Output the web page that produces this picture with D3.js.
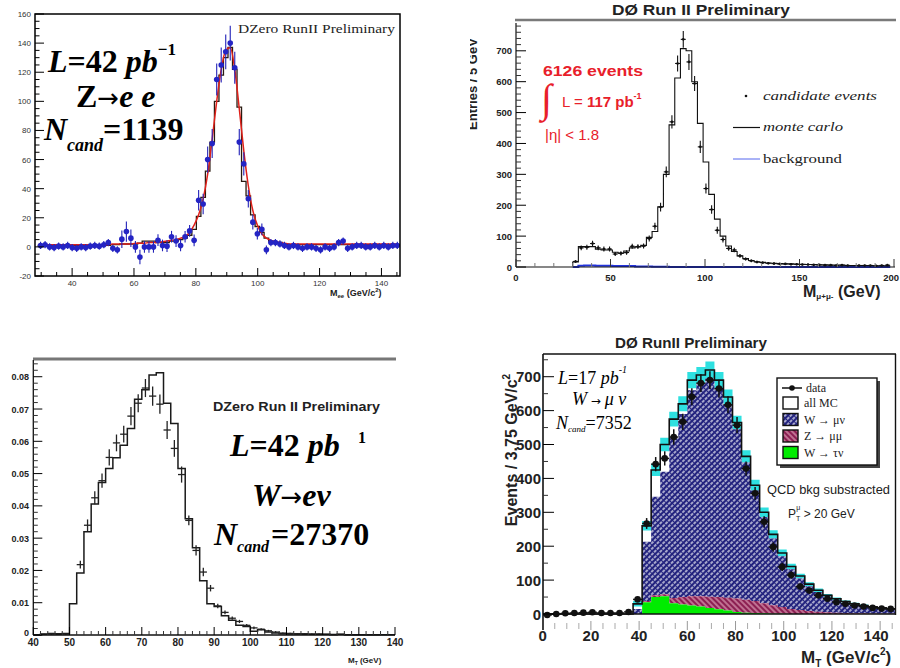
<!DOCTYPE html>
<html>
<head>
<meta charset="utf-8">
<script src="https://cdn.jsdelivr.net/npm/d3@7"></script>
<style>
  body { margin: 0; background: #fff; }
  svg { display: block; }
</style>
</head>
<body>
<svg id="chart" width="900" height="668"></svg>
<script>
// ---- panel A: Z -> ee (DZero RunII), bins of 1.46 GeV ----
const zeeEdge0 = 29.07, zeeWidth = 1.46;
const zeeData = [1,1.5,0,-0.5,0.5,0,1,-0.5,-1,0, -0.5,0.5,1,0.5,1.5,3,-1,-2,5.3,10.5,
  6,0,-7,0,0,0,4.6,1,0.5,7, 4,1,7,11,4.5,32,29.5,60,71,115,
  125,134,140,123,72,57,33,17,9,12, -2,3,3,2,1,0,1,0,-1,0,
  0,-1,-2,0,-1,0,3,4,-1,0, 1,1,0,0,1,0,1,0,1,1];
const zeeErr = [2.5,2.5,2.5,2.5,2.5,2.5,2.5,2.5,2.5,2.5, 2.5,2.5,2.5,2.5,2.5,2.5,2.5,2.5,6,7,
  6,4,5,4,4,4,4,4,4,4, 4,4,4,4,4,7,7,9,10,11,
  12,12,12,11,9,8,6,5,4,4, 3,2.5,2.5,2.5,2.5,2.5,2.5,2.5,2.5,2.5,
  2.5,2.5,2.5,2.5,2.5,2.5,2.5,2.5,2.5,2.5, 2.5,2.5,2.5,2.5,2.5,2.5,2.5,2.5,2.5,2.5];
const zeeMC = [1,1,1,1,1,1,1,1,1,1, 1,1,1,1,1,1,1.5,1.5,2,2,
  2,2,2.5,4,4,4,3,3,3,4, 4,5,6,8,12,21,34,52,72,100,
  118,130,137,122,96,45,35,22,14,10, 6,4,3,3,2,1.5,1.5,1.5,1.5,1.5,
  1.5,1.5,1.5,1.5,1.5,1.5,1.5,1.5,1.5,1.5, 1.5,1.5,1.5,1.5,1.5,1.5,1.5,1.5,1.5,1.5];
const zeeFit = [1.5,1.5,1.5,1.5,1.5,1.5,1.5,1.5,1.5,1.5, 1.5,1.5,1.5,1.5,1.5,1.5,2,2,2,2,
  2,2.5,2.5,2.5,3,3,3,3.5,4,4.5, 5,6,7,10,15,22,33,50,74,100,
  122,135,137,122,95,66,42,25,15,9, 6,4.5,3.5,3,2.5,2,2,2,2,2,
  2,2,2,2,2,2,2,2,2,2, 2,2,2,2,2,2,2,2,2,2];
const zeeYTicks = [-20, 0, 20, 40, 60, 80, 100, 120, 140, 160];
const zeeXTicks = [40, 60, 80, 100, 120, 140];

// ---- panel B: Z -> mu mu (D0 Run II), bins of 3 GeV ----
const zmmEdge0 = 30, zmmWidth = 3;
const zmmData = [18,62,64,76,62,58,58,42,44,47, 67,66,68,92,132,194,308,470,659,737,
  664,594,389,254,186,119,89,60,55,36, 26,20,16,14,12,11,10,10,9,9,
  8,8,7,7,6,6,5,6,5,null, 5,5,5,4,5,6];
const zmmErr = [4,8,8,9,8,8,8,6.5,6.6,7, 8,8,8,9.6,11.5,14,17.5,21.7,25.7,27,
  25.8,24.4,19.7,16,13.6,11,9.4,7.7,7.4,6, 5,4.5,4,3.7,3.5,3.3,3.2,3.2,3,3,
  2.8,2.8,2.6,2.6,2.4,2.4,2.2,2.4,2.2,null, 2.2,2.2,2.2,2,2.2,2.4];
const zmmMC = [16,66,66,66,58,55,55,48,45,52, 62,65,70,96,115,195,300,460,612,707,
  700,600,465,340,235,155,100,68,50,36, 27,21,17,15,13,12,11,10,10,9,
  9,8,8,7,7,6,6,6,5,5, 5,5,5,4,4,4];
const zmmBkg = [0,4,5,5,4,4,4,3,3,3, 3,2,2,2,1,1,1,0,0,0,
  0,0,0,0,0,0,0,0,0,0, 0,0,0,0,0,0,0,0,0,0,
  0,0,0,0,0,0,0,0,0,0, 0,0,0,0,0,0];
const zmmYTicks = [0, 100, 200, 300, 400, 500, 600, 700];
const zmmXTicks = [0, 50, 100, 150, 200];

// ---- panel C: W -> e nu (DZero Run II), bins of 2 GeV ----
const wenEdge0 = 40, wenWidth = 2;
const wenMC = [0,0.0003,0.0005,0.0004,0.0005,0.0097,0.0192,0.032,0.0406,0.0472,
  0.0516,0.0549,0.0588,0.064,0.073,0.076,0.0805,0.0812,0.0718,0.0655,
  0.0516,0.036,0.027,0.0168,0.0097,0.0088,0.006,0.0046,0.003,0.0026,
  0.0012,0.0016,0.0009,0.0006,0.0004,0.0003,0.0003,0.0002,0.0002,0.0002,
  0.0002,0.0001,0.0002,0.0001,0.0001,0.0001,0.0001,0.0001,0.0001,0.0001];
const wenData = [null,0.0002,0.0003,0.0002,0.0003,null,0.0218,0.034,0.0425,0.0478,
  0.055,0.0595,0.0622,0.0678,0.0718,0.0765,0.074,0.0715,0.0635,0.0578,
  0.0497,0.0355,0.0262,0.0195,0.0145,0.009,0.007,0.0052,0.0042,0.003,
  0.0022,0.0018,0.0013,0.0009,0.0006,0.0005,0.0004,0.0004,0.0003,0.0003,
  0.0002,0.0002,0.0002,0.0001,0.0001,0.0001,0.0001,0.0001,null,null];
const wenErr = [null,0.0002,0.0002,0.0002,0.0002,null,0.0012,0.0018,0.002,0.0022,
  0.0025,0.0026,0.0026,0.0028,0.0028,0.0028,0.003,0.003,0.0028,0.0026,
  0.0025,0.0015,0.0016,0.0013,0.001,0.0007,0.0006,0.0005,0.0005,0.0004,
  0.0004,0.0003,0.0003,0.0003,0.0002,0.0002,0.0002,0.0002,0.0002,0.0002,
  0.0001,0.0001,0.0001,0.0001,0.0001,0.0001,0.0001,0.0001,null,null];
const wenYTicks = [0, 0.01, 0.02, 0.03, 0.04, 0.05, 0.06, 0.07, 0.08];
const wenYLabels = ['0', '0.01', '0.02', '0.03', '0.04', '0.05', '0.06', '0.07', '0.08'];
const wenXTicks = [40, 50, 60, 70, 80, 90, 100, 110, 120, 130, 140];

// ---- panel D: W -> mu nu (D0 RunII), bins of 3.75 GeV ----
const wmnEdge0 = 0, wmnWidth = 3.75;
const wmnData = [-3,0,2,3,4,5,3,3,3,6, 43,267,442,459,522,567,641,681,690,665,
  617,557,429,356,272,198,139,115,81,69, 55,45,35,30,25,22,18,16,15];
const wmnErr = [3,3,3,3,3,3,3,3,3,4, 7,16,21,21,23,24,25,26,26,26,
  25,24,21,19,16.5,14,12,11,9,8.3, 7.4,6.7,6,5.5,5,4.7,4.2,4,3.9];
const wmnAllMC = [0,0,0,0,0,0,0,0,0,0, 30,260,425,500,575,620,690,705,720,690,
  640,565,465,380,300,235,180,140,112,88, 70,55,45,37,30,25,21,18,15];
const wmnBand = [0,0,0,0,0,0,0,0,0,0, 8,14,18,20,22,22,24,24,25,24,
  22,20,18,16,14,12,10,8,7,6, 5,4,4,3,3,3,2,2,2];
const wmnTau = [0,0,0,0,0,0,0,0,0,0, 0,35,50,52,32,28,25,22,18,14,
  10,6,4,3,2,1,1,0,0,0, 0,0,0,0,0,0,0,0,0];
const wmnZ = [0,0,0,0,0,0,0,0,0,0, 0,3,5,6,15,22,27,30,33,36,
  38,40,38,35,30,25,20,15,12,9, 7,5,4,3,2,2,1,1,1];
const wmnW = [0,0,0,0,0,0,0,0,0,0, 15,175,291,362,473,540,608,628,644,615,
  570,499,405,326,254,197,149,117,93,73, 58,46,37,31,25,20,18,15,12];
const wmnYTicks = [0, 100, 200, 300, 400, 500, 600, 700];
const wmnXTicks = [0, 20, 40, 60, 80, 100, 120, 140];

const SANS = '"Liberation Sans", Arial, sans-serif';
const SERIF = '"Liberation Serif", "Times New Roman", serif';
const ARROW = '"DejaVu Sans", sans-serif';

const svg = d3.select('#chart');
const defs = svg.append('defs');

function makeClip(id, x0, y0, x1, y1) {
  defs.append('clipPath').attr('id', id).append('rect')
    .attr('x', x0).attr('y', y0).attr('width', x1 - x0).attr('height', y1 - y0);
  return `url(#${id})`;
}

// text with tspans; parts: {t, size, style, weight, y, x, dx, dy}
function txt(g, x, y, parts, o = {}) {
  const t = g.append('text').attr('x', x).attr('y', y)
    .attr('font-family', o.family || SANS)
    .attr('font-size', o.size || 12)
    .attr('font-weight', o.weight || 'normal')
    .attr('fill', o.fill || '#000');
  if (o.anchor) t.attr('text-anchor', o.anchor);
  if (o.style) t.attr('font-style', o.style);
  if (o.len) t.attr('textLength', o.len).attr('lengthAdjust', 'spacingAndGlyphs');
  if (o.transform) t.attr('transform', o.transform);
  if (typeof parts === 'string') parts = [{ t: parts }];
  for (const p of parts) {
    const s = t.append('tspan').text(p.t);
    for (const k of ['x', 'y', 'dx', 'dy']) if (p[k] != null) s.attr(k, p[k]);
    if (p.size) s.attr('font-size', p.size);
    if (p.style) s.attr('font-style', p.style);
    if (p.weight) s.attr('font-weight', p.weight);
    if (p.family) s.attr('font-family', p.family);
  }
  return t;
}

function stepPoints(vals, e0, w) {
  const pts = [[e0, 0]];
  vals.forEach((v, i) => pts.push([e0 + i * w, v]));
  pts.push([e0 + vals.length * w, vals[vals.length - 1]]);
  return pts;
}
function stepPath(vals, e0, w, x, y) {
  return d3.line().x(d => x(d[0])).y(d => y(d[1])).curve(d3.curveStepAfter)(stepPoints(vals, e0, w));
}
function stepArea(lo, hi, e0, w, x, y) {
  const pts = lo.map((l, i) => [e0 + i * w, l, hi[i]]);
  pts.push([e0 + lo.length * w, lo[lo.length - 1], hi[hi.length - 1]]);
  return d3.area().x(d => x(d[0])).y0(d => y(d[1])).y1(d => y(d[2])).curve(d3.curveStepAfter)(pts);
}

// ticks on a y axis at x0 pointing right, and on an x axis at y0 pointing up
function yTicks(g, x0, y, vals, len, color = '#000') {
  g.selectAll(null).data(vals).enter().append('line')
    .attr('x1', x0).attr('x2', x0 + len).attr('y1', d => y(d)).attr('y2', d => y(d))
    .attr('stroke', color).attr('stroke-width', 1);
}
function xTicks(g, y0, x, vals, len, color = '#000') {
  g.selectAll(null).data(vals).enter().append('line')
    .attr('x1', d => x(d)).attr('x2', d => x(d)).attr('y1', y0).attr('y2', y0 - len)
    .attr('stroke', color).attr('stroke-width', 1);
}

function errorCrosses(g, vals, errs, e0, w, x, y, hw, color, sw) {
  const pts = vals.map((v, i) => ({ c: e0 + (i + 0.5) * w, v, e: errs[i] })).filter(d => d.v != null);
  const sel = g.append('g').attr('stroke', color).attr('stroke-width', sw);
  sel.selectAll(null).data(pts).enter().append('line')
    .attr('x1', d => x(d.c)).attr('x2', d => x(d.c))
    .attr('y1', d => y(d.v - d.e)).attr('y2', d => y(d.v + d.e));
  sel.selectAll(null).data(pts).enter().append('line')
    .attr('x1', d => (hw == null ? x(d.c - w / 2) : x(d.c) - hw))
    .attr('x2', d => (hw == null ? x(d.c + w / 2) : x(d.c) + hw))
    .attr('y1', d => y(d.v)).attr('y2', d => y(d.v));
  return pts;
}

// =================== panel A ===================
{
  const g = svg.append('g');
  const x = d3.scaleLinear([28, 146], [35, 400]);
  const y = d3.scaleLinear([-20, 160], [276, 14]);
  const clip = makeClip('clipA', 35, 14, 400, 276);

  const plot = g.append('g').attr('clip-path', clip);
  plot.append('path').attr('d', stepPath(zeeMC, zeeEdge0, zeeWidth, x, y))
    .attr('fill', 'none').attr('stroke', '#2a1a10').attr('stroke-width', 1.3);
  const centers = zeeFit.map((v, i) => [zeeEdge0 + (i + 0.5) * zeeWidth, v]);
  plot.append('path')
    .attr('d', d3.line().x(d => x(d[0])).y(d => y(d[1])).curve(d3.curveMonotoneX)(centers))
    .attr('fill', 'none').attr('stroke', '#e0201a').attr('stroke-width', 1.5);
  const pts = errorCrosses(plot, zeeData, zeeErr, zeeEdge0, zeeWidth, x, y, 0, '#2222b8', 1.1);
  plot.selectAll(null).data(pts).enter().append('circle')
    .attr('cx', d => x(d.c)).attr('cy', d => y(d.v)).attr('r', 2.8).attr('fill', '#2424c4');

  g.append('rect').attr('x', 35).attr('y', 14).attr('width', 365).attr('height', 262)
    .attr('fill', 'none').attr('stroke', '#000').attr('stroke-width', 1.5);
  yTicks(g, 35, y, d3.range(-20, 161, 5).filter(v => v % 20 !== 0), 4.5);
  yTicks(g, 35, y, zeeYTicks, 9);
  xTicks(g, 276, x, d3.range(30, 146, 5).filter(v => v % 20 !== 0), 4);
  xTicks(g, 276, x, zeeXTicks, 8);
  zeeYTicks.forEach(v => txt(g, 31, y(v) + 3, String(v), { size: 8, anchor: 'end', fill: '#333' }));
  zeeXTicks.forEach(v => txt(g, x(v), 286, String(v), { size: 8, anchor: 'middle', fill: '#333' }));
  txt(g, 330, 296, [{ t: 'M' }, { t: 'ee', size: 6, y: 298 }, { t: ' (GeV/c', y: 296 }, { t: '2', size: 6, y: 292 }, { t: ')', y: 296 }],
    { size: 9, weight: 'bold', fill: '#222' });

  txt(g, 238, 33, 'DZero RunII Preliminary', { family: SERIF, size: 13, len: 157, fill: '#222' });

  const big = { family: SERIF, size: 32, weight: 'bold' };
  txt(g, 48, 72, [{ t: 'L', style: 'italic' }, { t: '=42 ' }, { t: 'pb', style: 'italic' }, { t: '−1', size: 17, y: 55 }], big);
  txt(g, 76, 107, [{ t: 'Z' }, { t: '→', family: ARROW, weight: 'normal', size: 26 }, { t: 'e e', style: 'italic' }], big);
  txt(g, 44, 140, [{ t: 'N', style: 'italic' }, { t: 'cand', style: 'italic', size: 18, y: 151 }, { t: '=1139', y: 140 }], big);
}

// =================== panel B ===================
{
  const g = svg.append('g');
  const x = d3.scaleLinear([0, 200], [516, 894]);
  const y = d3.scaleLinear([0, 790], [267, 23]);
  const clip = makeClip('clipB', 516, 21, 897, 268);

  g.append('line').attr('x1', 515).attr('x2', 896).attr('y1', 20).attr('y2', 20)
    .attr('stroke', '#7a7a7a').attr('stroke-width', 2.5);

  const plot = g.append('g').attr('clip-path', clip);
  plot.append('path').attr('d', stepPath(zmmBkg, zmmEdge0, zmmWidth, x, y))
    .attr('fill', 'none').attr('stroke', '#2233dd').attr('stroke-width', 2);
  plot.append('path').attr('d', stepPath(zmmMC, zmmEdge0, zmmWidth, x, y))
    .attr('fill', 'none').attr('stroke', '#111').attr('stroke-width', 1.1);
  const pts = errorCrosses(plot, zmmData, zmmErr, zmmEdge0, zmmWidth, x, y, 2.5, '#111', 1.1);
  plot.selectAll(null).data(pts).enter().append('circle')
    .attr('cx', d => x(d.c)).attr('cy', d => y(d.v)).attr('r', 1.3).attr('fill', '#111');

  g.append('line').attr('x1', 516).attr('x2', 516).attr('y1', 23).attr('y2', 267).attr('stroke', '#111').attr('stroke-width', 1.2);
  g.append('line').attr('x1', 516).attr('x2', 895).attr('y1', 267).attr('y2', 267).attr('stroke', '#111').attr('stroke-width', 1.2);
  yTicks(g, 516, y, d3.range(0, 781, 20).filter(v => v % 100 !== 0), 5, '#333');
  yTicks(g, 516, y, zmmYTicks, 10);
  xTicks(g, 267, x, d3.range(10, 200, 10).filter(v => v % 50 !== 0), 4, '#777');
  xTicks(g, 267, x, zmmXTicks, 8, '#333');
  zmmYTicks.forEach(v => txt(g, 512, y(v) + 3.5, String(v), { size: 9.5, weight: 'bold', anchor: 'end', fill: '#222' }));
  zmmXTicks.forEach(v => txt(g, v === 200 ? 899 : x(v), 281, String(v),
    { size: 9.5, weight: 'bold', anchor: v === 200 ? 'end' : 'middle', fill: '#222' }));

  txt(g, 803, 297, [{ t: 'M' }, { t: 'μ+μ-', size: 8, y: 299 }, { t: ' (GeV)', y: 297 }], { size: 16, weight: 'bold', fill: '#222' });
  txt(g, 612, 15, 'DØ Run II Preliminary', { size: 15, weight: 'bold', len: 178, fill: '#222' });

  // axis title is cut by the left edge of this picture
  const labClip = makeClip('clipBlab', 470, 0, 520, 300);
  txt(g.append('g').attr('clip-path', labClip), 0, 0, 'Entries / 5 GeV',
    { size: 13, weight: 'bold', anchor: 'middle', transform: 'translate(477,84) rotate(-90)', fill: '#222' });

  // red annotation
  const red = '#e8202a';
  txt(g, 543, 76, '6126 events', { size: 15, weight: 'bold', fill: red, len: 100 });
  txt(g, 541, 112, '∫', { family: SERIF, size: 40, fill: red });
  txt(g, 562, 107, [{ t: 'L = ', weight: 'normal' }, { t: '117 pb' }, { t: '-1', size: 9, y: 99 }], { size: 15, weight: 'bold', fill: red });
  txt(g, 545, 140, '|η| < 1.8', { size: 15, fill: red });

  // legend
  g.append('circle').attr('cx', 746).attr('cy', 96).attr('r', 1.3).attr('fill', '#111');
  txt(g, 763, 100, 'candidate events', { family: SERIF, size: 12.5, style: 'italic', len: 114, fill: '#222' });
  g.append('line').attr('x1', 733).attr('x2', 760).attr('y1', 127.5).attr('y2', 127.5).attr('stroke', '#111').attr('stroke-width', 1.2);
  txt(g, 763, 131, 'monte carlo', { family: SERIF, size: 12.5, style: 'italic', len: 80, fill: '#222' });
  g.append('line').attr('x1', 733).attr('x2', 760).attr('y1', 159).attr('y2', 159).attr('stroke', '#5566ee').attr('stroke-width', 1);
  txt(g, 763, 163, 'background', { family: SERIF, size: 12.5, len: 79, fill: '#222' });
}

// =================== panel C ===================
{
  const g = svg.append('g');
  const x = d3.scaleLinear([40, 140], [33.3, 395]);
  const y = d3.scaleLinear([0, 0.0854], [635, 359.3]);
  const clip = makeClip('clipC', 33, 360, 396, 636);

  g.append('line').attr('x1', 33).attr('x2', 396).attr('y1', 359).attr('y2', 359)
    .attr('stroke', '#777').attr('stroke-width', 3);

  const plot = g.append('g').attr('clip-path', clip);
  plot.append('path').attr('d', stepPath(wenMC, wenEdge0, wenWidth, x, y))
    .attr('fill', 'none').attr('stroke', '#1a1a1a').attr('stroke-width', 1.5);
  errorCrosses(plot, wenData, wenErr, wenEdge0, wenWidth, x, y, null, '#222', 1.3);

  g.append('line').attr('x1', 33.3).attr('x2', 33.3).attr('y1', 360).attr('y2', 635).attr('stroke', '#111').attr('stroke-width', 1.3);
  g.append('line').attr('x1', 33.3).attr('x2', 395).attr('y1', 635).attr('y2', 635).attr('stroke', '#111').attr('stroke-width', 1.3);
  yTicks(g, 33.3, y, d3.range(0, 0.085, 0.002).filter((v, i) => i % 5 !== 0), 4.5, '#333');
  yTicks(g, 33.3, y, wenYTicks, 9);
  xTicks(g, 635, x, d3.range(42, 140, 2).filter(v => v % 10 !== 0), 4, '#333');
  xTicks(g, 635, x, wenXTicks, 8);
  wenYTicks.forEach((v, i) => txt(g, 29, y(v) + 3.5 - (i === 0 ? 3 : 0), wenYLabels[i], { size: 9, weight: 'bold', anchor: 'end', fill: '#222' }));
  wenXTicks.forEach(v => txt(g, x(v), 646, String(v), { size: 10, weight: 'bold', anchor: 'middle', fill: '#222' }));
  txt(g, 348, 663, [{ t: 'M' }, { t: 'T', size: 5, y: 665 }, { t: ' (GeV)', y: 663 }], { size: 8, weight: 'bold', fill: '#222' });

  txt(g, 213, 411, 'DZero Run II Preliminary', { size: 13, weight: 'bold', len: 167, fill: '#222' });
  const big = { family: SERIF, size: 32, weight: 'bold' };
  txt(g, 230, 456, [{ t: 'L', style: 'italic' }, { t: '=42 ' }, { t: 'pb', style: 'italic' }], big);
  txt(g, 358, 443, '1', { family: SERIF, size: 16, weight: 'bold' });
  txt(g, 252, 506, [{ t: 'W', style: 'italic' }, { t: '→', family: ARROW, weight: 'normal', size: 26 }, { t: 'eν', style: 'italic' }], big);
  txt(g, 214, 545, [{ t: 'N', style: 'italic' }, { t: 'cand', style: 'italic', size: 16, y: 552 }, { t: '=27370', y: 545, dx: 2 }], big);
}

// =================== panel D ===================
{
  const g = svg.append('g');
  const x = d3.scaleLinear([0, 146], [542.7, 894.6]);
  const y = d3.scaleLinear([0, 767], [614, 354]);
  const clip = makeClip('clipD', 543, 354, 895, 640);

  const pb = defs.append('pattern').attr('id', 'hatchW').attr('patternUnits', 'userSpaceOnUse')
    .attr('width', 4).attr('height', 4).attr('patternTransform', 'rotate(-45)');
  pb.append('rect').attr('width', 4).attr('height', 4).attr('fill', '#22227e');
  pb.append('line').attr('x1', 0).attr('x2', 4).attr('y1', 1).attr('y2', 1)
    .attr('stroke', '#fff').attr('stroke-width', 1.2).attr('stroke-dasharray', '3 1');
  const pr = defs.append('pattern').attr('id', 'hatchZ').attr('patternUnits', 'userSpaceOnUse')
    .attr('width', 4).attr('height', 4).attr('patternTransform', 'rotate(45)');
  pr.append('rect').attr('width', 4).attr('height', 4).attr('fill', '#8c1f52');
  pr.append('line').attr('x1', 0).attr('x2', 4).attr('y1', 1).attr('y2', 1).attr('stroke', '#f2c0d0').attr('stroke-width', 1);

  const plot = g.append('g').attr('clip-path', clip);
  const lo = wmnAllMC.map((v, i) => Math.max(0, v - wmnBand[i]));
  const hi = wmnAllMC.map((v, i) => v + wmnBand[i]);
  plot.append('path').attr('d', stepArea(lo, hi, wmnEdge0, wmnWidth, x, y)).attr('fill', '#2ee0e0');
  const zero = wmnTau.map(() => 0);
  const tauTop = wmnTau.slice();
  const zTop = wmnTau.map((v, i) => v + wmnZ[i]);
  const wTop = zTop.map((v, i) => v + wmnW[i]);
  plot.append('path').attr('d', stepArea(zTop, wTop, wmnEdge0, wmnWidth, x, y)).attr('fill', 'url(#hatchW)');
  plot.append('path').attr('d', stepArea(tauTop, zTop, wmnEdge0, wmnWidth, x, y)).attr('fill', 'url(#hatchZ)');
  plot.append('path').attr('d', stepArea(zero, tauTop, wmnEdge0, wmnWidth, x, y)).attr('fill', '#00ec00');
  plot.append('path').attr('d', stepPath(wmnAllMC, wmnEdge0, wmnWidth, x, y))
    .attr('fill', 'none').attr('stroke', '#111').attr('stroke-width', 1.6);
  g.append('line').attr('x1', 543).attr('x2', 895).attr('y1', 614).attr('y2', 614).attr('stroke', '#111').attr('stroke-width', 1.4);
  const pts = errorCrosses(plot, wmnData, wmnErr, wmnEdge0, wmnWidth, x, y, null, '#111', 1.5);
  plot.selectAll(null).data(pts).enter().append('circle')
    .attr('cx', d => x(d.c)).attr('cy', d => y(d.v)).attr('r', 3.3).attr('fill', '#111');

  g.append('line').attr('x1', 543).attr('x2', 543).attr('y1', 354).attr('y2', 630).attr('stroke', '#111').attr('stroke-width', 1.6);
  g.append('line').attr('x1', 543).attr('x2', 896).attr('y1', 354).attr('y2', 354).attr('stroke', '#111').attr('stroke-width', 1.4);
  g.append('line').attr('x1', 895.5).attr('x2', 895.5).attr('y1', 354).attr('y2', 615).attr('stroke', '#111').attr('stroke-width', 1.4);
  yTicks(g, 543, y, d3.range(50, 760, 100), 5, '#333');
  yTicks(g, 543, y, wmnYTicks, 11);
  xTicks(g, 629, x, d3.range(5, 146, 5).filter(v => v % 20 !== 0), 6, '#aaa');
  xTicks(g, 630, x, wmnXTicks.slice(1), 9, '#999');
  wmnYTicks.forEach(v => txt(g, 541, y(v) + 5.5, String(v), { size: 15, weight: 'bold', anchor: 'end', fill: '#222' }));
  wmnXTicks.forEach(v => txt(g, x(v) - (v === 140 ? 4 : 0), 641, String(v), { size: 15, weight: 'bold', anchor: 'middle', fill: '#222' }));
  txt(g, 801, 663, [{ t: 'M' }, { t: 'T', size: 10, y: 667 }, { t: ' (GeV/c', y: 663 }, { t: '2', size: 10, y: 655 }, { t: ')', y: 663 }],
    { size: 17, weight: 'bold', fill: '#222' });
  txt(g, 0, 0, [{ t: 'Events / 3.75 GeV/c' }, { t: '2', size: 10, dy: -7 }],
    { size: 16, weight: 'bold', anchor: 'middle', transform: 'translate(517,450) rotate(-90)', fill: '#222' });
  txt(g, 615, 348, 'DØ RunII Preliminary', { size: 14, weight: 'bold', len: 152, fill: '#222' });

  const it = { family: SERIF, size: 18, style: 'italic' };
  txt(g, 558, 384, [{ t: 'L' }, { t: '=17 ', style: 'normal' }, { t: 'pb' }, { t: '-1', size: 10, y: 373 }], it);
  txt(g, 572, 405, [{ t: 'W' }, { t: ' → ', style: 'normal', family: ARROW, size: 12 }, { t: 'μ ν' }], it);
  txt(g, 556, 429, [{ t: 'N' }, { t: 'cand', size: 9, y: 432 }, { t: '=7352', style: 'normal', y: 429 }], it);

  // legend
  g.append('rect').attr('x', 780).attr('y', 381).attr('width', 100).attr('height', 87).attr('fill', '#444');
  g.append('rect').attr('x', 777).attr('y', 378).attr('width', 100).attr('height', 87)
    .attr('fill', '#fff').attr('stroke', '#111').attr('stroke-width', 1.4);
  const lg = { family: SERIF, size: 12, fill: '#222' };
  g.append('line').attr('x1', 782).attr('x2', 802).attr('y1', 388).attr('y2', 388).attr('stroke', '#111').attr('stroke-width', 1.5);
  g.append('circle').attr('cx', 792).attr('cy', 388).attr('r', 2.8).attr('fill', '#111');
  txt(g, 806, 392, 'data', lg);
  const sw = [['#fff', 'all MC'], ['url(#hatchW)', 'W → μν'], ['url(#hatchZ)', 'Z → μμ'], ['#00ec00', 'W → τν']];
  sw.forEach(([f, label], i) => {
    const yy = 397 + i * 16.5;
    g.append('rect').attr('x', 783).attr('y', yy).attr('width', 15).attr('height', 12)
      .attr('fill', f).attr('stroke', '#111').attr('stroke-width', 1.4);
    txt(g, 804, yy + 10, label, lg);
  });

  txt(g, 767, 494, 'QCD bkg substracted', { size: 13, len: 123, fill: '#222' });
  txt(g, 788, 518, [{ t: 'P' }, { t: 'T', size: 7, y: 521 }, { t: 'μ', size: 7, y: 510, dx: -4 }, { t: ' > 20 GeV', y: 518 }], { size: 12, fill: '#222' });
}
</script>
</body>
</html>
